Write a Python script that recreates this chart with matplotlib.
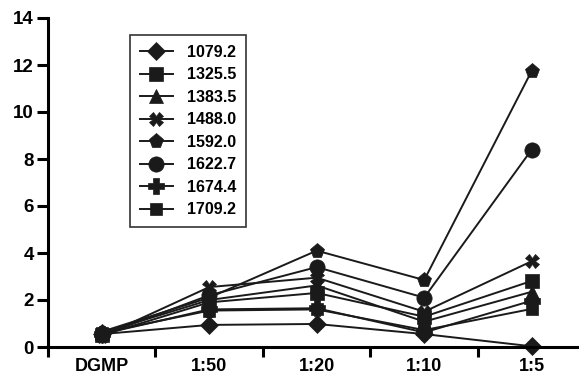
import matplotlib
matplotlib.use("Agg")
import matplotlib.pyplot as plt

categories = ["DGMP", "1:50", "1:20", "1:10", "1:5"]
series_names = ["1079.2", "1325.5", "1383.5", "1488.0", "1592.0", "1622.7", "1674.4", "1709.2"]
s1079 = [0.55, 0.94, 0.98, 0.55, 0.03]
s1325 = [0.50, 1.90, 2.30, 1.29, 2.81]
s1383 = [0.60, 2.00, 2.62, 1.08, 2.35]
s1488 = [0.45, 2.55, 2.95, 1.50, 3.65]
s1592 = [0.65, 2.10, 4.10, 2.85, 11.75]
s1622 = [0.50, 2.20, 3.40, 2.10, 8.40]
s1674 = [0.55, 1.60, 1.65, 0.62, 1.97]
s1709 = [0.60, 1.55, 1.60, 0.72, 1.62]
yticks = [0, 2, 4, 6, 8, 10, 12, 14]

series = [s1079, s1325, s1383, s1488, s1592, s1622, s1674, s1709]
markers = ["D", "s", "^", "X", "p", "o", "P", "s"]
msizes = [9, 10, 10, 10, 11, 11, 11, 8]

plt.rcParams['font.family'] = ['Liberation Sans', 'DejaVu Sans']
plt.rcParams['font.weight'] = 'bold'

fig = plt.figure(figsize=(5.79, 3.76), dpi=100)
ax = fig.add_axes([48/579, 1-347/376, 1-48/579, (347-18)/376])

x = list(range(len(categories)))
for name, vals, m, ms in zip(series_names, series, markers, msizes):
    ax.plot(x, vals, color="#1a1a1a", lw=1.4, marker=m, markersize=ms,
            markeredgewidth=0.5, markerfacecolor="#1a1a1a", markeredgecolor="#1a1a1a",
            label=name, clip_on=False)

ax.set_xlim(-0.5, 4.44)
ax.set_ylim(0, 14)
ax.set_yticks(yticks)
ax.set_yticklabels([str(v) for v in yticks], fontsize=13.5, fontweight='bold')
ax.set_xticks([-0.5, 0.5, 1.5, 2.5, 3.5])
ax.set_xticklabels([])
ax.set_xticks(x, minor=True)
ax.set_xticklabels(categories, minor=True, fontsize=13, fontweight='bold')
ax.tick_params(axis='x', which='major', length=7, width=2.2, direction='out')
ax.tick_params(axis='x', which='minor', length=0, pad=8)
ax.tick_params(axis='y', which='major', length=8, width=2.2, direction='out', pad=2)

for s in ['top', 'right']:
    ax.spines[s].set_visible(False)
for s in ['left', 'bottom']:
    ax.spines[s].set_linewidth(2.2)

leg = ax.legend(loc='upper left', bbox_to_anchor=((130-48)/531, (347-35)/329),
                frameon=True, fancybox=False, edgecolor='black',
                handlelength=2.1, borderpad=0.6, labelspacing=0.47, handletextpad=0.9,
                borderaxespad=0.0,
                prop={'weight': 'bold', 'size': 11.5})
leg.get_frame().set_linewidth(1.2)

fig.savefig("out.png", dpi=100)
